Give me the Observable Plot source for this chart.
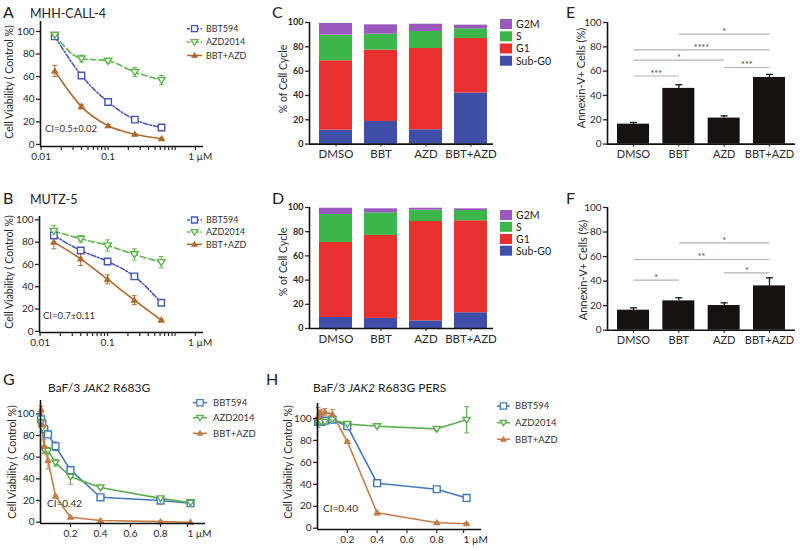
<!DOCTYPE html>
<html><head><meta charset="utf-8">
<script src="https://cdn.jsdelivr.net/npm/d3@7"></script>
<script src="https://cdn.jsdelivr.net/npm/@observablehq/plot@0.6"></script>
<style>
body{margin:0;background:#fff;}
#fig{position:relative;width:800px;height:551px;overflow:hidden;background:#fff;}
</style></head><body><div id="fig"></div>
<script>
// ---------------- DATA ----------------
const seriesNames = ["BBT594", "AZD2014", "BBT+AZD"];
// Panel A (MHH-CALL-4), log doses in µM
const dosesAB = [0.016, 0.04, 0.1, 0.25, 0.625];
const aBBT594 = [95.6, 61, 37.6, 22, 15];
const aBBT594Err = [2, 2, 2, 1.5, 1.5];
const aAZD2014 = [97, 76, 74, 64, 57];
const aAZD2014Err = [2, 3, 2, 4, 4];
const aCombo = [65, 33.5, 16.5, 9, 5];
const aComboErr = [5, 2, 1, 0.5, 0.5];
// Panel B (MUTZ-5)
const bBBT594 = [86, 72.5, 62.7, 49.3, 25.7];
const bBBT594Err = [2, 2, 1, 1, 1.5];
const bAZD2014 = [90, 83, 77, 69, 62];
const bAZD2014Err = [5, 3, 5, 5, 5];
const bCombo = [80, 65, 46.6, 28, 10];
const bComboErr = [6, 6, 4, 4, 1];
// Panels C / D cell cycle
const cats = ["DMSO", "BBT", "AZD", "BBT+AZD"];
const phases = ["Sub-G0", "G1", "S", "G2M"];
const cSubG0 = [11.5, 18.6, 11.8, 42.0];
const cG1 = [57.0, 58.7, 66.8, 44.8];
const cS = [21.1, 13.1, 14.0, 8.0];
const cG2M = [9.6, 7.7, 6.0, 3.0];
const dSubG0 = [9.1, 8.3, 6.3, 13.0];
const dG1 = [62.0, 68.6, 82.1, 76.0];
const dS = [23.1, 18.7, 9.4, 8.5];
const dG2M = [5.2, 3.3, 1.6, 1.4];
// Panels E / F annexin-V
const eMean = [16.4, 45.8, 21.4, 54.8];
const eErr = [1.4, 3.0, 1.8, 2.5];
const eSigFrom = [0, 0, 0, 1, 2];
const eSigTo = [1, 2, 3, 3, 3];
const eSigY = [56, 69, 77.5, 90.5, 63];
const eSigLabel = ["***", "*", "****", "*", "***"];
const fMean = [16.3, 23.9, 20.1, 36.1];
const fErr = [1.9, 2.5, 2.2, 6.6];
const fSigFrom = [0, 1, 0, 2];
const fSigTo = [1, 3, 3, 3];
const fSigY = [40.8, 71.2, 57.6, 46.7];
const fSigLabel = ["*", "*", "**", "*"];
// Panels G / H (linear doses µM)
const dosesGH = [0.004, 0.0125, 0.025, 0.05, 0.1, 0.2, 0.4, 0.8, 1];
const gBBT594 = [95, 91, 86, 81, 70, 48, 23, 20, 17.5];
const gBBT594Err = [4, 3, 2, 2, 4, 3, 1.5, 1.5, 1.5];
const gAZD2014 = [92, 87, 67, 66, 55, 42, 32, 22, 18];
const gAZD2014Err = [3, 4, 4, 3, 3, 7, 1.5, 1.5, 1.5];
const gCombo = [104, 90, 70, 57, 24, 4.5, 1.5, 0.5, 0];
const gComboErr = [3, 4, 6, 8, 1, 1, 0.5, 0.5, 0];
const hBBT594 = [97, 97.5, 97, 98, 99, 93, 41, 35.5, 27.6];
const hBBT594Err = [2, 2, 2, 2, 2, 2, 2, 1.5, 2];
const hAZD2014 = [97, 97, 97, 97, 99, 95, 93, 90.6, 98.8];
const hAZD2014Err = [2, 2, 2, 2, 2, 1.5, 1.5, 2, 12];
const hCombo = [101, 104, 105, 106, 104, 79, 14, 5, 4];
const hComboErr = [9, 3, 3, 3, 4, 1, 1, 1, 1];
// tick labels and axis titles
const yTicks = [0, 20, 40, 60, 80, 100];
const logMajor = [0.01, 0.1, 1];
const logMajorLabels = ["0.01", "0.1", "1 µM"];
const linTicks = [0.2, 0.4, 0.6, 0.8, 1];
const linTickLabels = ["0.2", "0.4", "0.6", "0.8", "1 µM"];
const viabilityTitle = "Cell Viability ( Control %)";
const cycleTitle = "% of Cell Cycle";
const annexinTitle = "Annexin-V+ Cells (%)";

// ---------------- STYLE ----------------
const FONT = "Lato, 'Open Sans', sans-serif";
const fig = document.getElementById("fig");
const ML = 44, MR = 10, MT = 8, MB = 28;
const triDown = { draw(ctx, size) { const r = Math.sqrt(size / Math.PI) * 1.1; ctx.moveTo(-r, -r * 0.7); ctx.lineTo(r, -r * 0.7); ctx.lineTo(0, r * 0.95); ctx.closePath(); } };
const triUp = { draw(ctx, size) { const r = Math.sqrt(size / Math.PI) * 1.2; ctx.moveTo(-r, r * 0.7); ctx.lineTo(r, r * 0.7); ctx.lineTo(0, -r * 0.95); ctx.closePath(); } };
const square = { draw(ctx, size) { const r = Math.sqrt(size / Math.PI) * 0.9; ctx.rect(-r, -r, 2 * r, 2 * r); } };
const cap = { draw(ctx, size) { const r = Math.sqrt(size / Math.PI); ctx.moveTo(-r, 0); ctx.lineTo(r, 0); } };

const stylesAB = [
  { color: "#4456b8", dash: "5,2,1.5,2", symbol: square, fill: "white", r: 3.6 },
  { color: "#5cb84a", dash: "6,3", symbol: triDown, fill: "white", r: 3.4 },
  { color: "#b0692d", dash: null, symbol: triUp, fill: "#b0692d", r: 2.2 }
];
const stylesGH = [
  { color: "#4079bb", dash: null, symbol: square, fill: "white", r: 3.8 },
  { color: "#5aae4e", dash: null, symbol: triDown, fill: "white", r: 3.2 },
  { color: "#c47c49", dash: null, symbol: triUp, fill: "#c47c49", r: 2.2 }
];
const phaseColors = ["#3f4fa8", "#e8302e", "#3cb54a", "#9b58bf"];

function mount(frame, scales, marks) {
  const [x0, x1, y0, y1] = frame;
  const svg = Plot.plot({
    width: x1 - x0 + ML + MR, height: y1 - y0 + MT + MB,
    marginLeft: ML, marginRight: MR, marginTop: MT, marginBottom: MB,
    style: `font-family:${FONT};color:#2a2a2a;background:transparent;overflow:visible;max-width:none;`,
    ...scales, marks
  });
  svg.style.position = "absolute";
  svg.style.left = (x0 - ML) + "px";
  svg.style.top = (y0 - MT) + "px";
  fig.appendChild(svg);
}

function seriesMarks(x, ys, errs, styles, curve) {
  const marks = [];
  ys.forEach((y, k) => {
    const s = styles[k];
    const rows = x.map((xv, i) => ({ x: xv, y: y[i], e: errs[k][i] }));
    const er = rows.filter(d => d.e > 0);
    marks.push(Plot.line(rows, { x: "x", y: "y", stroke: s.color, strokeWidth: 1.6, strokeDasharray: s.dash || undefined, curve }));
    marks.push(Plot.ruleX(er, { x: "x", y1: d => d.y - d.e, y2: d => d.y + d.e, stroke: s.color, strokeWidth: 1 }));
    marks.push(Plot.dot(er, { x: "x", y: d => d.y + d.e, symbol: cap, r: 2.4, stroke: s.color, fill: "none", strokeWidth: 1 }));
    marks.push(Plot.dot(er, { x: "x", y: d => d.y - d.e, symbol: cap, r: 2.4, stroke: s.color, fill: "none", strokeWidth: 1 }));
  });
  ys.forEach((y, k) => {
    const s = styles[k];
    const rows = x.map((xv, i) => ({ x: xv, y: y[i] }));
    marks.push(Plot.dot(rows, { x: "x", y: "y", symbol: s.symbol, r: s.r, stroke: s.color, fill: s.fill, strokeWidth: 1.4 }));
  });
  return marks;
}

function axisLines(xmin, ymin) {
  return [
    Plot.ruleX([xmin], { stroke: "#111", strokeWidth: 1.6 }),
    Plot.ruleY([ymin], { stroke: "#111", strokeWidth: 1.6 })
  ];
}

const minorLog = d3.scaleLog().domain([0.01, 2]).ticks();
function logPanel(frame, yDomain, ys, errs) {
  const xDomain = [0.0098, 2.64];
  mount(frame, { x: { type: "log", domain: xDomain, label: null }, y: { domain: yDomain, label: null } }, [
    ...seriesMarks(dosesAB, ys, errs, stylesAB, "monotone-x"),
    ...axisLines(xDomain[0], yDomain[0]),
    Plot.axisY({ ticks: yTicks, tickSize: 4, tickPadding: 2, fontSize: 10, strokeWidth: 1.3, label: null }),
    Plot.axisX({ ticks: minorLog, tickSize: 4, tickPadding: 2, fontSize: 10, strokeWidth: 1.2, label: null,
      tickFormat: d => { const j = logMajor.findIndex(m => Math.abs(m - d) / m < 1e-6); return j >= 0 && j < 2 ? logMajorLabels[j] : ""; } }),
    Plot.axisX({ ticks: [logMajor[2]], tickSize: 0, tickPadding: 6, fontSize: 10, label: null, textAnchor: "start", dx: 13,
      tickFormat: () => logMajorLabels[2] })
  ]);
}
function linPanel(frame, yDomain, ys, errs) {
  const xDomain = [0, 1.1];
  mount(frame, { x: { domain: xDomain, label: null }, y: { domain: yDomain, label: null } }, [
    ...seriesMarks(dosesGH, ys, errs, stylesGH, "linear"),
    ...axisLines(xDomain[0], yDomain[0]),
    Plot.axisY({ ticks: yTicks, tickSize: 4, tickPadding: 2, fontSize: 10, strokeWidth: 1.3, label: null }),
    Plot.axisX({ ticks: linTicks.slice(0, 4), tickSize: 4, tickPadding: 2, fontSize: 10, strokeWidth: 1.2, label: null,
      tickFormat: d => linTickLabels[linTicks.indexOf(d)] }),
    Plot.axisX({ ticks: [linTicks[4]], tickSize: 4, tickPadding: 2, fontSize: 10, strokeWidth: 1.2, label: null, textAnchor: "start", dx: -3,
      tickFormat: () => linTickLabels[4] })
  ]);
}

function stackPanel(frame, parts) {
  const xDomain = [-0.589, 3.5], hw = 0.367;
  const rows = [];
  cats.forEach((c, i) => { let acc = 0; parts.forEach((p, k) => { rows.push({ i, phase: phases[k], y1: acc, y2: acc + p[i] }); acc += p[i]; }); });
  mount(frame, { x: { domain: xDomain, label: null }, y: { domain: [0, 100], label: null }, color: { domain: phases, range: phaseColors } }, [
    Plot.rectY(rows, { x1: d => d.i - hw, x2: d => d.i + hw, y1: "y1", y2: "y2", fill: "phase" }),
    ...axisLines(xDomain[0], 0),
    Plot.axisY({ ticks: yTicks, tickSize: 4, tickPadding: 2, fontSize: 9, fontWeight: "bold", strokeWidth: 1.3, label: null }),
    Plot.axisX({ ticks: [0, 1, 2, 3], tickSize: 3, tickPadding: 3, fontSize: 11.5, strokeWidth: 1.2, label: null, tickFormat: i => cats[i] })
  ]);
}

function annexPanel(frame, mean, err, sFrom, sTo, sY, sLab) {
  const xDomain = [-0.574, 3.574], hw = 0.353;
  const rows = mean.map((m, i) => ({ i, m, e: err[i] }));
  const sig = sFrom.map((a, j) => ({ a, b: sTo[j], y: sY[j], t: sLab[j] }));
  mount(frame, { x: { domain: xDomain, label: null }, y: { domain: [0, 100], label: null } }, [
    Plot.rectY(rows, { x1: d => d.i - hw, x2: d => d.i + hw, y1: 0, y2: "m", fill: "#161212" }),
    Plot.ruleX(rows, { x: "i", y1: "m", y2: d => d.m + d.e, stroke: "#161212", strokeWidth: 1.3 }),
    Plot.dot(rows, { x: "i", y: d => d.m + d.e, symbol: cap, r: 3.5, stroke: "#161212", fill: "none", strokeWidth: 1.3 }),
    Plot.link(sig, { x1: "a", x2: "b", y1: "y", y2: "y", stroke: "#b3b3b3", strokeWidth: 1.2 }),
    Plot.text(sig, { x: d => (d.a + d.b) / 2, y: "y", text: "t", dy: -2, fontSize: 9, fill: "#444" }),
    ...axisLines(xDomain[0], 0),
    Plot.axisY({ ticks: yTicks, tickSize: 4, tickPadding: 2, fontSize: 10, strokeWidth: 1.3, label: null }),
    Plot.axisX({ ticks: [0, 1, 2, 3], tickSize: 3, tickPadding: 3, fontSize: 11, strokeWidth: 1.2, label: null, tickFormat: i => cats[i] })
  ]);
}

// ---------------- PANELS ----------------
logPanel([40, 203, 21, 146], [-1.8, 108.8], [aBBT594, aAZD2014, aCombo], [aBBT594Err, aAZD2014Err, aComboErr]);
logPanel([39, 203, 216, 332], [-1, 103], [bBBT594, bAZD2014, bCombo], [bBBT594Err, bAZD2014Err, bComboErr]);
stackPanel([309, 493, 21.7, 143.3], [cSubG0, cG1, cS, cG2M]);
stackPanel([309, 493, 207.3, 328.3], [dSubG0, dG1, dS, dG2M]);
annexPanel([607, 795, 21.7, 143.3], eMean, eErr, eSigFrom, eSigTo, eSigY, eSigLabel);
annexPanel([607, 795, 207.3, 330], fMean, fErr, fSigFrom, fSigTo, fSigY, fSigLabel);
linPanel([40, 205, 400, 523], [-1.2, 112.3], [gBBT594, gAZD2014, gCombo], [gBBT594Err, gAZD2014Err, gComboErr]);
linPanel([317, 481, 403, 529], [-1.2, 113.7], [hBBT594, hAZD2014, hCombo], [hBBT594Err, hAZD2014Err, hComboErr]);

// ---------------- ANNOTATIONS ----------------
const ov = d3.select(fig).append("svg").attr("width", 800).attr("height", 551)
  .style("position", "absolute").style("left", "0px").style("top", "0px").style("font-family", FONT);
function txt(x, y, s, size, fill = "#222") { return ov.append("text").attr("x", x).attr("y", y).attr("font-size", size).attr("fill", fill).text(s); }
function vtxt(x, yc, s, size) {
  return ov.append("text").attr("transform", `translate(${x},${yc}) rotate(-90)`).attr("text-anchor", "middle")
    .attr("font-size", size).attr("fill", "#2a2a2a").text(s);
}
// axis titles
vtxt(12.5, 82, viabilityTitle, 10.5);
vtxt(12.5, 272, viabilityTitle, 10.5);
vtxt(16, 462, viabilityTitle, 10.5);
vtxt(292, 462, viabilityTitle, 10.5);
vtxt(287, 79, cycleTitle, 10.5);
vtxt(287, 262, cycleTitle, 10.5);
vtxt(585, 78, annexinTitle, 11);
vtxt(587, 270, annexinTitle, 11);
// panel letters
[["A", 3, 17.5], ["B", 3, 204], ["C", 272, 17.5], ["D", 272, 204], ["E", 566, 17.5], ["F", 566, 204], ["G", 3, 385], ["H", 266, 385]]
  .forEach(([l, x, y]) => txt(x, y, l, 16));
txt(30, 17.5, "MHH-CALL-4", 12.5);
txt(30, 204, "MUTZ-5", 12.5);
function jakTitle(x, y, suffix) {
  const t = ov.append("text").attr("x", x).attr("y", y).attr("font-size", 12).attr("fill", "#222");
  t.append("tspan").text("BaF/3 ");
  t.append("tspan").attr("font-style", "italic").text("JAK2");
  t.append("tspan").text(" R683G" + suffix);
}
jakTitle(48, 392, "");
jakTitle(313, 392, " PERS");
txt(45, 131.5, "CI=0.5±0.02", 9.5, "#333");
txt(43, 318.5, "CI=0.7±0.11", 9.5, "#333");
txt(47, 507, "CI=0.42", 10, "#333");
txt(323, 511.5, "CI=0.40", 10, "#333");

function lineLegend(x0, x1, tx, rowsY, styles, size) {
  seriesNames.forEach((name, k) => {
    const s = styles[k], y = rowsY[k];
    ov.append("line").attr("x1", x0).attr("x2", x1).attr("y1", y).attr("y2", y)
      .attr("stroke", s.color).attr("stroke-width", 1.5).attr("stroke-dasharray", s.dash ? "3,1.5" : null);
    ov.append("path").attr("d", d3.symbol().type(s.symbol).size(Math.PI * s.r * s.r * 0.85)())
      .attr("transform", `translate(${(x0 + x1) / 2},${y})`).attr("stroke", s.color).attr("stroke-width", 1.3).attr("fill", s.fill);
    txt(tx, y + size * 0.36, name, size, "#333");
  });
}
lineLegend(187, 202, 206, [28.7, 42, 55.5], stylesAB, 9);
lineLegend(187, 202, 206, [220, 232, 244.3], stylesAB, 9);
lineLegend(193, 207, 213, [402.7, 417.7, 433.3], stylesGH, 9.5);
lineLegend(497, 510, 515, [406, 422.7, 439.3], stylesGH, 9.5);

function boxLegend(x, rowsY) {
  const order = [3, 2, 1, 0];
  order.forEach((k, r) => {
    const y = rowsY[r];
    ov.append("rect").attr("x", x).attr("y", y - 5).attr("width", 12).attr("height", 10).attr("fill", phaseColors[k]);
    txt(x + 16, y + 3.8, phases[k], 10.5, "#222");
  });
}
boxLegend(500, [24, 36.3, 48.5, 60.7]);
boxLegend(500, [215, 226.8, 239, 250.7]);
</script></body></html>
